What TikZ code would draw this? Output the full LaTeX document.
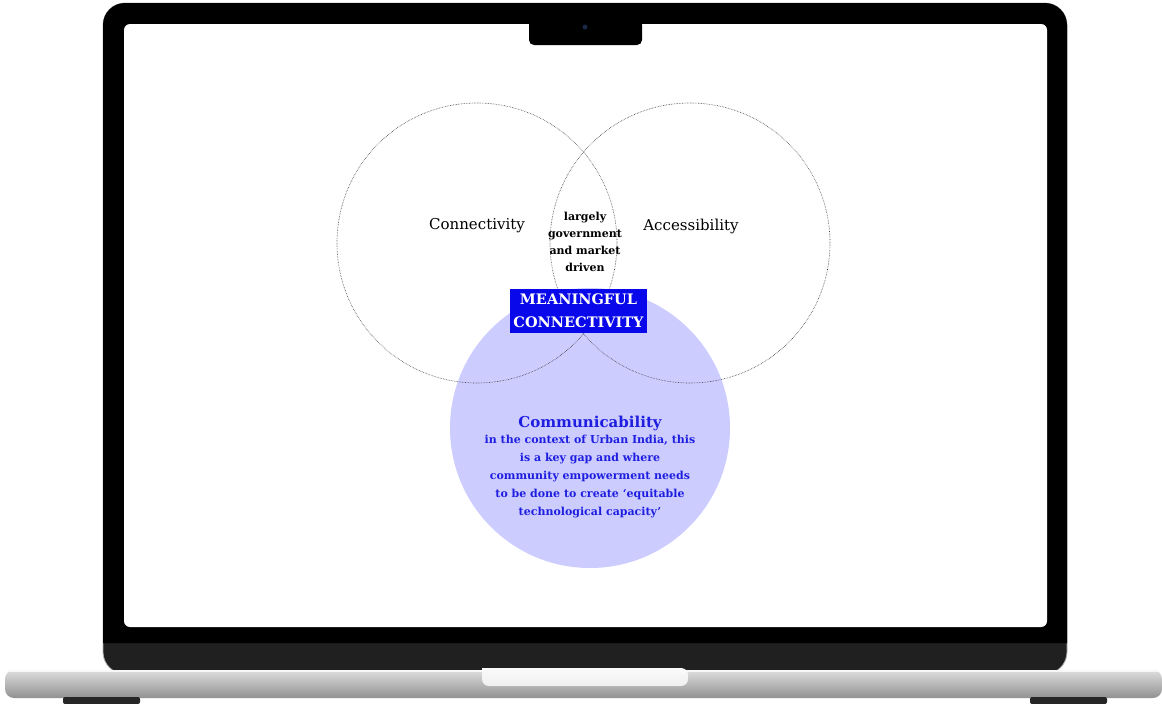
\documentclass[tikz,border=0pt]{standalone}
\usepackage{fontspec}
\setmainfont{DejaVu Serif}
\begin{document}
\definecolor{bezel}{RGB}{0,0,0}
\definecolor{chin}{RGB}{32,32,32}
\definecolor{silverTop}{RGB}{222,222,222}
\definecolor{silverBot}{RGB}{145,145,145}
\definecolor{ringline}{RGB}{60,60,60}
\definecolor{venn}{RGB}{204,204,255}
\definecolor{boxblue}{RGB}{8,8,235}
\definecolor{textblue}{RGB}{30,30,225}
\begin{tikzpicture}[x=1pt,y=-1pt,
  ring/.style={circle,draw=ringline,densely dotted,line width=0.6pt,minimum size=280pt,inner sep=0pt},
  filledring/.style={circle,fill=venn,minimum size=280pt,inner sep=0pt},
  setlabel/.style={font=\fontsize{15}{18}\selectfont,text=black},
  lenslabel/.style={font=\bfseries\fontsize{11}{17}\selectfont,align=center,text=black},
  bannerbox/.style={fill=boxblue,text=white,font=\bfseries\fontsize{14.5}{23}\selectfont,align=center,minimum width=137pt,minimum height=44pt,inner sep=0pt},
  headline/.style={font=\bfseries\fontsize{15}{18}\selectfont,text=textblue},
  bodytext/.style={font=\bfseries\fontsize{11}{18}\selectfont,text=textblue,align=center}]
\useasboundingbox (0,0) rectangle (1162,704);

% laptop lid: chin band, then black bezel above it
\fill[chin,draw=gray!60,line width=0.8pt,rounded corners=22pt] (103,3) rectangle (1067,674);
\fill[bezel,rounded corners=22pt] (103,3) -- (1067,3) -- (1067,643) [sharp corners] -- (1067,643) -- (103,643) [rounded corners=22pt] -- cycle;
% screen
\fill[white,rounded corners=6pt] (124,24) rectangle (1047,627);
% camera notch
\fill[bezel,rounded corners=5pt] (529,20) -- (529,45) -- (642,45) -- (642,20) [sharp corners] -- cycle;
\fill[bezel] (529,20) rectangle (642,30);
\node[circle,fill={rgb,255:red,25;green,40;blue,70},minimum size=5pt,inner sep=0pt] (cam) at (585,27) {};

% base
\shade[top color=silverTop,bottom color=silverBot,rounded corners=9pt] (5,670) -- (1162,670) -- (1162,698) -- (5,698) -- cycle;
\fill[white!94!gray] (8,670) rectangle (1159,672);
% thumb cut-out
\shade[top color=white!96!gray,bottom color=white!88!gray,rounded corners=7pt] (482,668) -- (482,686) -- (688,686) -- (688,668) [sharp corners] -- cycle;
% feet
\fill[gray!30!black,rounded corners=2pt] (63,697) rectangle (140,704);
\fill[gray!30!black,rounded corners=2pt] (1030,697) rectangle (1107,704);

% Venn diagram
\node[filledring] (comm) at (590,428) {};
\node[ring] (conn) at (477,243) {};
\node[ring] (acc) at (690,243) {};

\node[setlabel] (connlbl) at (477,226) {Connectivity};
\node[setlabel] (acclbl) at (691,226) {Accessibility};
\node[lenslabel] (lens) at (585,242) {largely\\government\\and market\\driven};

\node[bannerbox] (mc) at (578.5,311) {MEANINGFUL\\CONNECTIVITY};

\node[headline] (commlbl) at (590,423) {Communicability};
\node[bodytext,anchor=north] (commtxt) at (590,432) {in the context of Urban India, this\\is a key gap and where\\community empowerment needs\\to be done to create ‘equitable\\technological capacity’};
\end{tikzpicture}
\end{document}
